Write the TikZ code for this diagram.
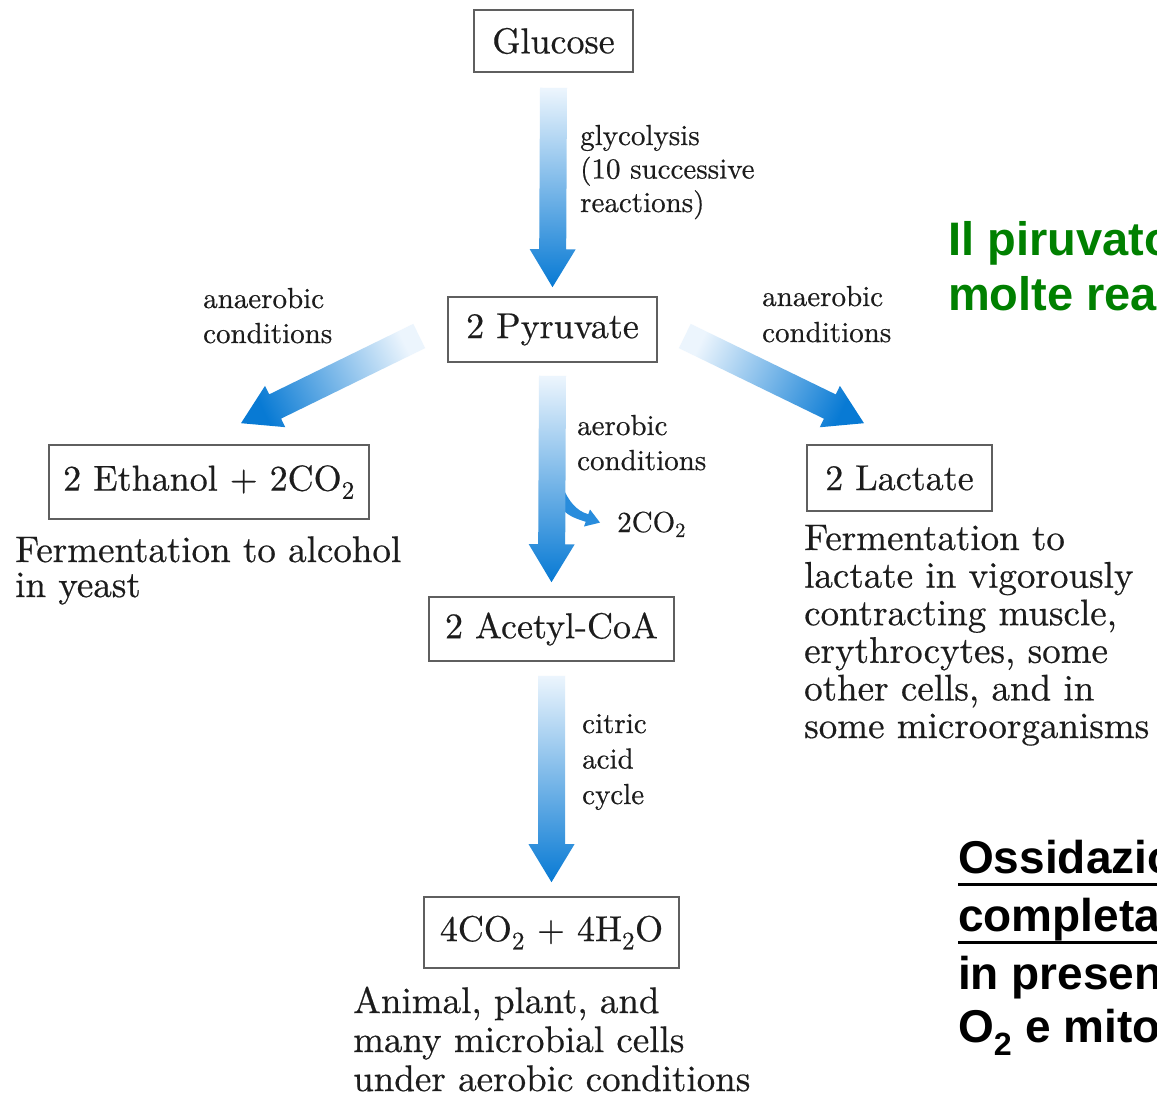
\documentclass[tikz,border=0pt]{standalone}
\usepackage{fontspec}
\newfontfamily\arialf{Liberation Sans}
\newfontfamily\serf{lmroman10-regular}[Extension=.otf, FakeBold=0.5]
\usetikzlibrary{calc}
\definecolor{al}{RGB}{236,245,253}
\definecolor{ad}{RGB}{8,122,212}
\definecolor{ab}{RGB}{40,140,220}
\definecolor{tx}{RGB}{28,28,28}
\definecolor{bx}{RGB}{95,95,95}
\definecolor{gr}{RGB}{0,128,0}
\newcommand\fatarrow[2]{%
  \path let \p1=(#1), \p2=(#2), \n1={atan2(\y2-\y1,\x2-\x1)}, \n2={veclen(\x2-\x1,\y2-\y1)} in
    \pgfextra{\xdef\faang{\n1}\xdef\falen{\n2}};
  \pgfmathsetmacro\fashade{\faang+90}
  \shade[fatarrow, shading angle=\fashade, shift={(#1)}, rotate=\faang]
    (0,-13.5) -- (\falen-38,-13.5) -- (\falen-38,-23) -- (\falen,0)
    -- (\falen-38,23) -- (\falen-38,13.5) -- (0,13.5) -- cycle;
}
\begin{document}
\begin{tikzpicture}[x=1pt,y=-1pt,
  boxnode/.style={draw=bx, line width=1.6pt, inner sep=0pt, text=tx, font=\serf\fontsize{36}{40}\selectfont},
  lbl/.style={anchor=base west, inner sep=0pt, align=left, text=tx},
  fatarrow/.style={top color=al, bottom color=ad},
  greentxt/.style={anchor=base west, inner sep=0pt, align=left, text=gr, font=\arialf\bfseries\fontsize{47}{55}\selectfont},
  blacktxt/.style={anchor=base west, inner sep=0pt, text=black, font=\arialf\bfseries\fontsize{46}{56.5}\selectfont},
  uline/.style={line width=3pt, black}
]
\useasboundingbox (0,0) rectangle (1157,1096);
\fill[white] (0,0) rectangle (1157,1096);
\clip (0,0) rectangle (1157,1096);

% boxes
\node[boxnode, minimum width=159pt, minimum height=62pt] (glu) at (553.5,41) {Glucose};
\node[boxnode, minimum width=209pt, minimum height=65pt] (pyr) at (552.5,329.5) {2 Pyruvate};
\node[boxnode, minimum width=320pt, minimum height=74pt] (eth) at (209,482) {2 Ethanol + 2CO\textsubscript{2}};
\node[boxnode, minimum width=185pt, minimum height=66pt] (lac) at (899.5,478) {2 Lactate};
\node[boxnode, minimum width=245pt, minimum height=64pt] (acc) at (551.5,629) {2 Acetyl-CoA};
\node[boxnode, minimum width=255pt, minimum height=71pt] (fin) at (551.5,932.5) {4CO\textsubscript{2} + 4H\textsubscript{2}O};

% arrow end points
\coordinate (a1s) at ($(glu.south)+(0,15)$);
\coordinate (a1e) at ($(pyr.north)+(0,-9)$);
\coordinate (a2s) at ($(pyr.south)+(0,13)$);
\coordinate (a2e) at ($(acc.north)+(0,-14)$);
\coordinate (a3s) at ($(acc.south)+(0,14)$);
\coordinate (a3e) at ($(fin.north)+(0,-14)$);
\coordinate (a4s) at ($(pyr.west)+(-28,6.5)$);
\coordinate (a4e) at ($(eth.north)+(32,-21)$);
\coordinate (a5s) at ($(pyr.east)+(27,6.5)$);
\coordinate (a5e) at ($(lac.north)+(-35.5,-21)$);

% CO2 branch
\node[lbl, font=\serf\fontsize{29}{34}\selectfont] (co2) at (617,532) {2CO\textsubscript{2}};
\fill[ab] (560,480) .. controls (567,500) and (576,511) .. (588.3,514.2)
  -- (590,509.5) -- (600,522.6) -- (584,526.5) -- (585.7,521.8)
  .. controls (574,518) and (566,515) .. (560,506) -- cycle;

\fatarrow{a1s}{a1e}
\fatarrow{a2s}{a2e}
\fatarrow{a3s}{a3e}
\fatarrow{a4s}{a4e}
\fatarrow{a5s}{a5e}

% labels (anchor = baseline of last line)
\node[lbl, font=\serf\fontsize{29}{33.5}\selectfont] (gly) at (580,212) {glycolysis\\(10 successive\\reactions)};
\node[lbl, font=\serf\fontsize{29}{35}\selectfont] (anl) at (203,343) {anaerobic\\conditions};
\node[lbl, font=\serf\fontsize{29}{36}\selectfont] (anr) at (762,342) {anaerobic\\conditions};
\node[lbl, font=\serf\fontsize{29}{35}\selectfont] (aer) at (577,470) {aerobic\\conditions};
\node[lbl, font=\serf\fontsize{29}{35.5}\selectfont] (cit) at (582,804) {citric\\acid\\cycle};

% body texts
\node[lbl, font=\serf\fontsize{37}{35}\selectfont] (fal) at (15,597) {Fermentation to alcohol\\in yeast};
\node[lbl, font=\serf\fontsize{37}{37.6}\selectfont] (fla) at (804,738) {Fermentation to\\lactate in vigorously\\contracting muscle,\\erythrocytes, some\\other cells, and in\\some microorganisms};
\node[lbl, font=\serf\fontsize{37}{39}\selectfont] (ani) at (353,1091) {Animal, plant, and\\many microbial cells\\under aerobic conditions};

% right side notes
\node[greentxt] (gn) at (948,310) {Il piruvato\\molte rea};
\node[blacktxt] (bk1) at (958,873) {Ossidazio};
\node[blacktxt] (bk2) at (958,931) {completa};
\node[blacktxt] (bk3) at (958,989) {in presen};
\node[blacktxt] (bk4) at (958,1042) {O\textsubscript{2} e mito};
\draw[uline] ($(bk1.base west)+(0,11)$) -- ($(bk1.base east)+(0,11)$);
\draw[uline] ($(bk2.base west)+(0,11)$) -- ($(bk2.base east)+(0,11)$);
\end{tikzpicture}
\end{document}
